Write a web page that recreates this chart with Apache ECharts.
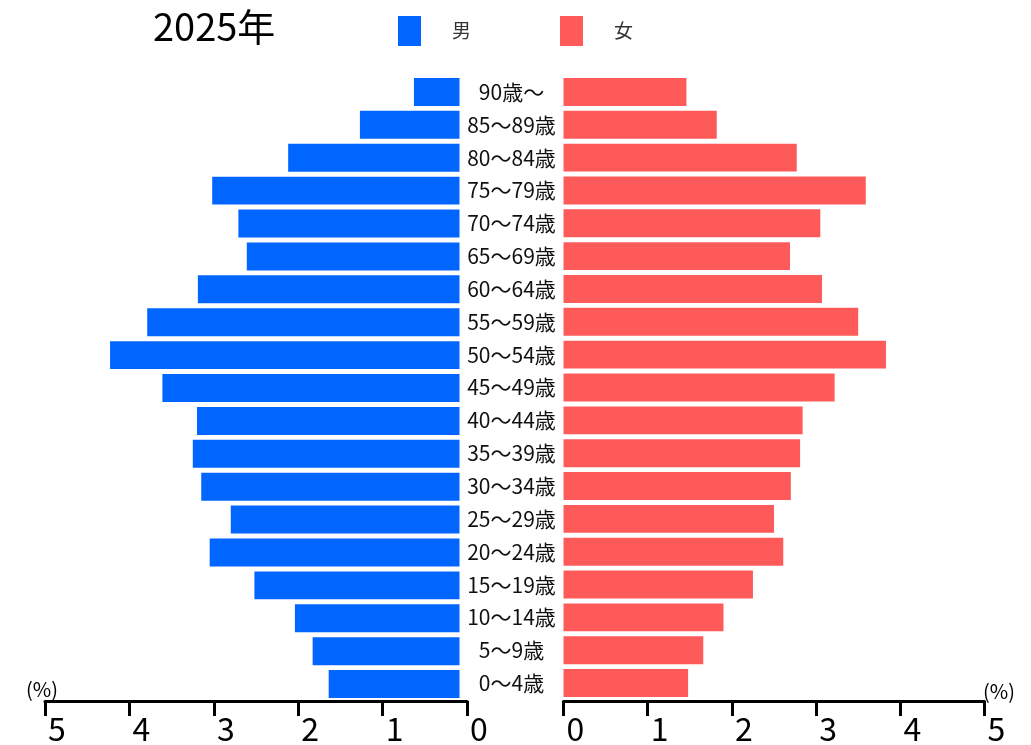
<!DOCTYPE html>
<html>
<head>
<meta charset="utf-8">
<script src="https://cdn.jsdelivr.net/npm/echarts@6/dist/echarts.min.js"></script>
<style>
html,body{margin:0;padding:0;background:#fff;}
#chart{width:1031px;height:745px;}
</style>
</head>
<body>
<div id="chart"></div>
<script>
// Age groups, bottom (youngest) to top (oldest)
const ageGroups = ['0〜4歳','5〜9歳','10〜14歳','15〜19歳','20〜24歳','25〜29歳','30〜34歳','35〜39歳','40〜44歳','45〜49歳','50〜54歳','55〜59歳','60〜64歳','65〜69歳','70〜74歳','75〜79歳','80〜84歳','85〜89歳','90歳〜'];
// Share of total population (%)
const male   = [1.55,1.74,1.95,2.43,2.96,2.71,3.06,3.16,3.11,3.52,4.14,3.70,3.10,2.52,2.62,2.93,2.03,1.18,0.54];
const female = [1.48,1.66,1.90,2.25,2.61,2.50,2.70,2.81,2.84,3.22,3.83,3.50,3.07,2.69,3.05,3.59,2.77,1.82,1.46];
const axisMin = 0, axisMax = 5, axisStep = 1;
const titleText = '2025年';
const seriesNames = ['男','女'];
const unitLabel = '(%)';

const FONT = '"Noto Sans CJK JP", "Noto Sans", sans-serif';
const chart = echarts.init(document.getElementById('chart'));

const valueAxisVisible = {
  type: 'value', min: axisMin, max: axisMax, interval: axisStep,
  axisLine: { show: true, lineStyle: { color: '#000', width: 3 } },
  axisTick: { show: true, length: 15, lineStyle: { color: '#000', width: 3 } },
  axisLabel: { show: true, color: '#000', fontSize: 32, fontFamily: FONT, margin: 12, padding: [0,0,0,24] },
  splitLine: { show: false }
};
const hiddenCat = { type: 'category', data: ageGroups, show: false };

chart.setOption({
  animation: false,
  backgroundColor: '#fff',
  textStyle: { fontFamily: FONT },
  title: {
    text: titleText, left: 148, top: 3,
    textStyle: { fontSize: 38, fontWeight: 'normal', color: '#000', fontFamily: FONT }
  },
  legend: {
    data: seriesNames, left: 393, top: 11, itemWidth: 23, itemHeight: 30, itemGap: 89,
    icon: 'rect',
    textStyle: { fontSize: 19, color: '#333', fontFamily: FONT, padding: [0,0,0,26] }
  },
  grid: [
    { left: 45, width: 422, top: 75.5, height: 626, containLabel: false },   // left visible axis
    { left: 37.5, width: 422, top: 75.5, height: 625, containLabel: false }, // male bars
    { left: 563.5, width: 421, top: 75.5, height: 625, containLabel: false } // female bars
  ],
  xAxis: [
    Object.assign({ gridIndex: 0, inverse: true }, valueAxisVisible),
    { gridIndex: 1, type: 'value', min: axisMin, max: axisMax, inverse: true, show: false },
    Object.assign({ gridIndex: 2, offset: 1.5 }, valueAxisVisible)
  ],
  yAxis: [
    Object.assign({ gridIndex: 0 }, hiddenCat),
    Object.assign({ gridIndex: 1 }, hiddenCat),
    {
      gridIndex: 2, type: 'category', data: ageGroups, position: 'left',
      axisLine: { show: false }, axisTick: { show: false },
      axisLabel: { show: true, align: 'center', margin: 52, color: '#111', fontSize: 21, fontFamily: FONT }
    }
  ],
  graphic: [
    { type: 'text', left: 26, top: 679, style: { text: unitLabel, fontSize: 20, fill: '#000', fontFamily: FONT } },
    { type: 'text', left: 983, top: 681, style: { text: unitLabel, fontSize: 20, fill: '#000', fontFamily: FONT } }
  ],
  series: [
    { name: seriesNames[0], type: 'bar', xAxisIndex: 1, yAxisIndex: 1, data: male,
      barWidth: '85%', itemStyle: { color: '#0066ff' } },
    { name: seriesNames[1], type: 'bar', xAxisIndex: 2, yAxisIndex: 2, data: female,
      barWidth: '85%', itemStyle: { color: '#ff5a5a' } }
  ]
});
</script>
</body>
</html>
